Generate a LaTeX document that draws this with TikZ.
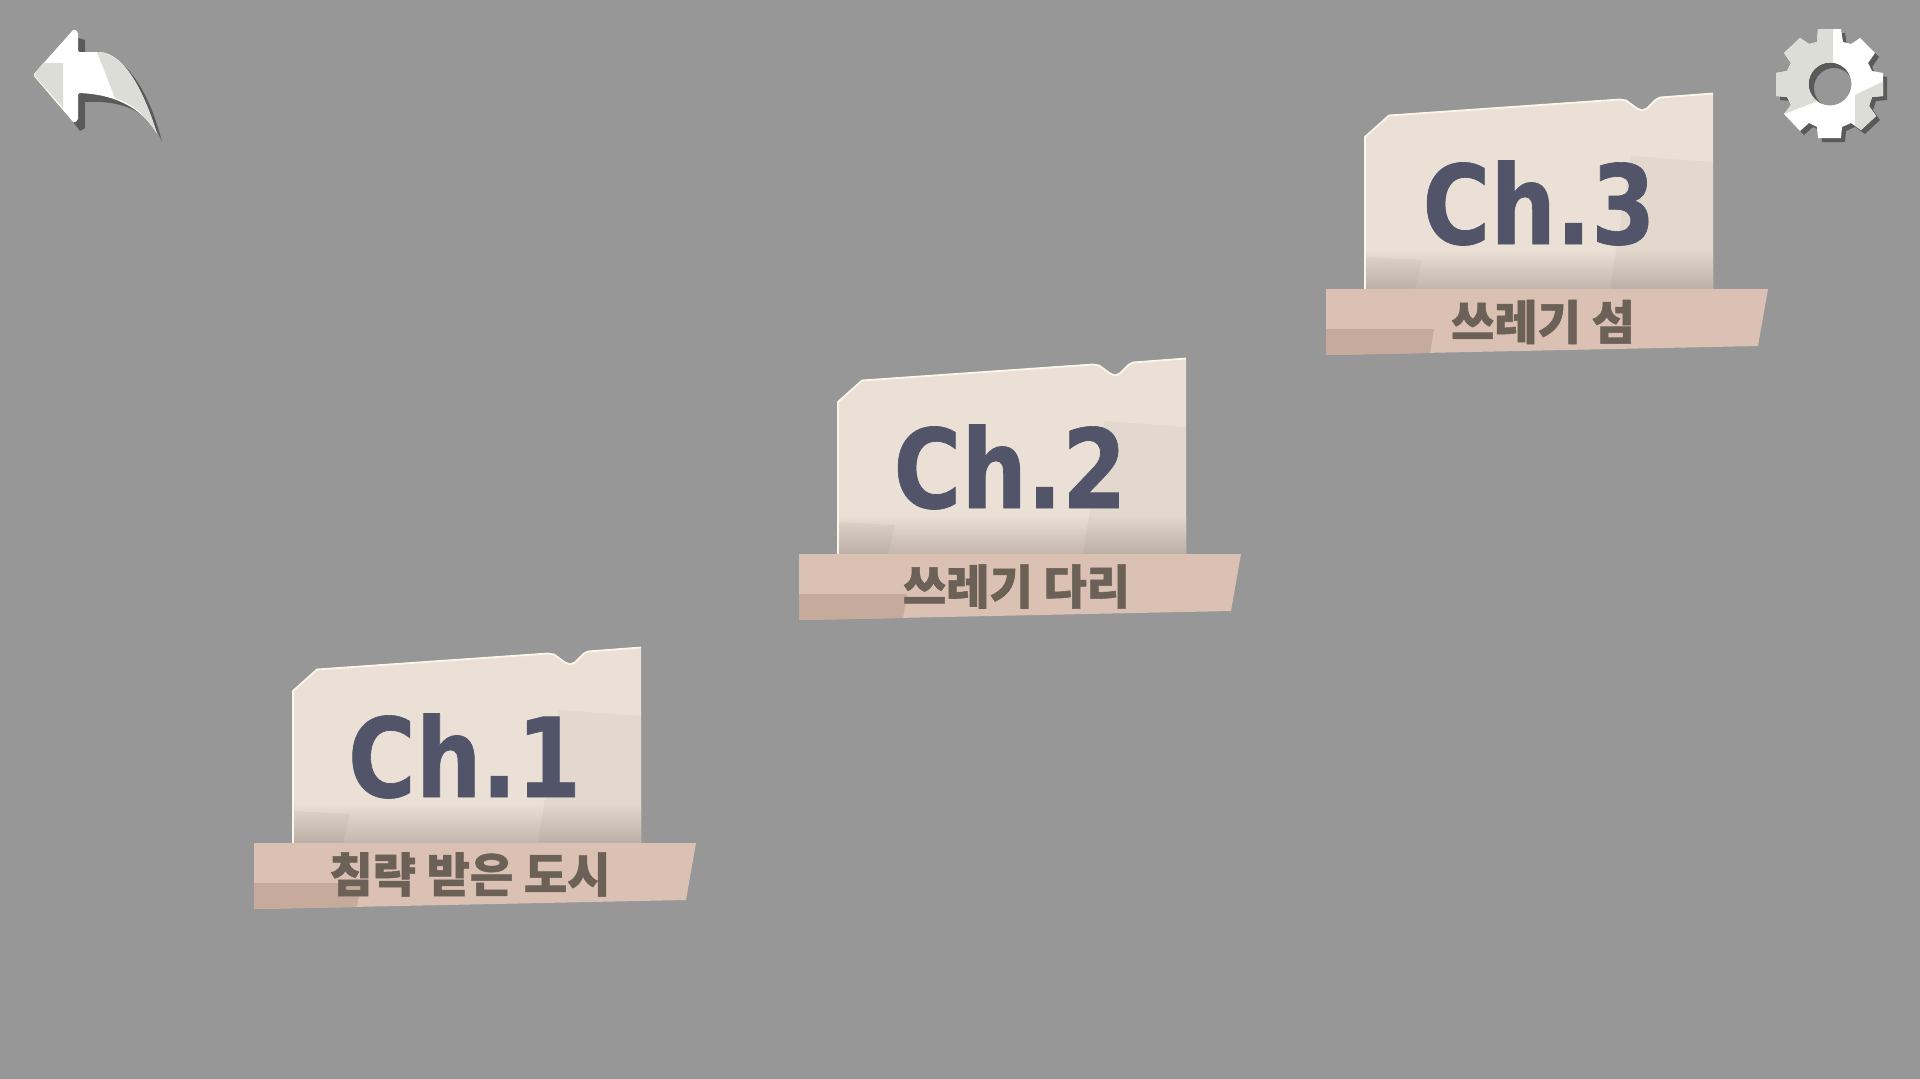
\documentclass[tikz,border=0pt]{standalone}
\usepackage{fontspec}
\newfontfamily\titlefont[FakeStretch=0.84,BoldFeatures={FakeBold=0.6}]{DejaVu Sans}
\newfontfamily\korfont[BoldFeatures={FakeBold=1.2}]{Noto Sans CJK KR}
\definecolor{bggray}{HTML}{979797}
\definecolor{cardbase}{HTML}{EBE0D6}
\definecolor{cardmid}{HTML}{E3D8CE}
\definecolor{cardedge}{HTML}{FBF6EA}
\definecolor{cardlow}{HTML}{C3B7AD}
\definecolor{bannerbase}{HTML}{DBC1B3}
\definecolor{bannerdark}{HTML}{C6AB9D}
\definecolor{titleink}{HTML}{525569}
\definecolor{subink}{HTML}{6C6157}
\definecolor{iconpale}{HTML}{DCDDD6}
\definecolor{iconshade}{HTML}{5A5A5A}
\tikzset{
  chtitle/.style={inner sep=0pt, anchor=base, text=titleink, font=\titlefont\fontsize{110}{110}\selectfont\bfseries},
  chsub/.style={inner sep=0pt, text=subink, font=\korfont\fontsize{47}{47}\selectfont\bfseries},
  cardfade/.style={top color=cardbase, middle color=cardmid, bottom color=cardlow},
  cardpatch/.style={fill=black, fill opacity=0.035},
  cardline/.style={draw=cardedge, line width=1.8pt},
}
\begin{document}
\begin{tikzpicture}[x=1pt,y=-1pt]
% Card and banner outlines, relative to the lower left corner
\def\cardpath{-- +(0,-152) -- +(25,-174) -- +(256,-190) -- +(262,-189) -- +(273,-181) -- +(278,-179) -- +(283,-181) -- +(292,-190) -- +(296,-192) -- +(349,-196) -- +(349,0) -- cycle}
\def\cardrim{-- +(0,-152) -- +(24,-173.5) -- +(255,-189.5) -- +(261,-188.5) -- +(272,-180.5) -- +(277,-178.5) -- +(282,-180.5) -- +(291,-189.5) -- +(295,-191.5) -- +(348,-195.5)}
\def\bannerpath{-- +(442,0) -- +(432,57) -- +(0,66) -- cycle}

% Background
\fill[bggray] (0,0) rectangle (1920,1079);
\useasboundingbox (0,0) rectangle (1920,1079);

% Chapter 1
\fill[cardbase] (292,843) \cardpath;
\shade[cardfade] (292,803) rectangle (641,843);
\fill[cardpatch] (559,710) -- (641,716) -- (641,843) -- (538,843) -- cycle;
\fill[cardpatch] (292,811) -- (350,814) -- (343,843) -- (292,843) -- cycle;
\draw[cardline] (293,843) \cardrim;
\fill[bannerbase] (254,843) \bannerpath;
\fill[bannerdark] (254,883) -- (361,883) -- (357,907) -- (254,909) -- cycle;
\node[chtitle] (chone) at (464.5,797) {Ch.1};
\node[chsub] (subone) at (470,874.5) {침략 받은 도시};

% Chapter 2
\fill[cardbase] (837,554) \cardpath;
\shade[cardfade] (837,514) rectangle (1186,554);
\fill[cardpatch] (1104,421) -- (1186,427) -- (1186,554) -- (1083,554) -- cycle;
\fill[cardpatch] (837,522) -- (895,525) -- (888,554) -- (837,554) -- cycle;
\draw[cardline] (838,554) \cardrim;
\fill[bannerbase] (799,554) \bannerpath;
\fill[bannerdark] (799,594) -- (907,594) -- (903,618) -- (799,620) -- cycle;
\node[chtitle] (chtwo) at (1010,508) {Ch.2};
\node[chsub] (subtwo) at (1016.5,586.5) {쓰레기 다리};

% Chapter 3
\fill[cardbase] (1364,289) \cardpath;
\shade[cardfade] (1364,249) rectangle (1713,289);
\fill[cardpatch] (1631,156) -- (1713,162) -- (1713,289) -- (1610,289) -- cycle;
\fill[cardpatch] (1364,257) -- (1422,260) -- (1415,289) -- (1364,289) -- cycle;
\draw[cardline] (1365,289) \cardrim;
\fill[bannerbase] (1326,289) \bannerpath;
\fill[bannerdark] (1326,329) -- (1434,329) -- (1430,353) -- (1326,355) -- cycle;
\node[chtitle] (chthree) at (1539,244) {Ch.3};
\node[chsub] (subthree) at (1543,322) {쓰레기 섬};

% Back arrow
\fill[iconshade] (78,38) -- (85,40) -- (85,52) -- (100,52) .. controls (130,60) and (150,95) .. (162,142) .. controls (150,110) and (120,100) .. (85,102) -- (85,128) -- (80,131) -- (74,123) -- cycle;
\fill[white, rounded corners=1.5pt] (74,29) -- (78,32) -- (78,52) -- (97,52) .. controls (125,52) and (145,95) .. (157,134) .. controls (140,105) and (110,94) .. (78,93) -- (78,120) -- (74,123) -- (33,75) -- cycle;
\fill[iconpale] (34,75) -- (43,63) -- (63,63) -- (63,108) -- cycle;
\fill[iconpale] (97,52) .. controls (125,52) and (145,95) .. (157,134) .. controls (145,113) and (130,103) .. (115,98) -- cycle;

% Settings gear
\def\gearpath{-- +(23,0) -- +(25,13) -- +(33,15) -- +(42,9) -- +(57,24) -- +(50,34) -- +(54,42) -- +(65,44) -- +(65,67) -- +(54,68) -- +(51,77) -- +(58,87) -- +(43,101) -- +(33,94) -- +(24,98) -- +(23,109) -- +(0,109) -- +(-1,98) -- +(-9,94) -- +(-18,102) -- +(-34,85) -- +(-27,76) -- +(-31,68) -- +(-42,67) -- +(-42,44) -- +(-31,42) -- +(-27,34) -- +(-34,24) -- +(-18,9) -- +(-9,15) -- +(-1,13) -- cycle}
\fill[iconshade, even odd rule] (1822,33) \gearpath (1834,88) circle (20);
\begin{scope}[even odd rule]
\clip (1818,29) \gearpath (1830,84) circle (21.5);
\fill[white] (1770,20) rectangle (1890,145);
\fill[iconpale] (1833,20) -- (1833,84) -- (1815,102) -- (1784,114) -- (1770,120) -- (1770,20) -- cycle;
\fill[iconpale] (1890,78) -- (1855,95) -- (1855,135) -- (1890,135) -- cycle;
\end{scope}
\end{tikzpicture}
\end{document}
